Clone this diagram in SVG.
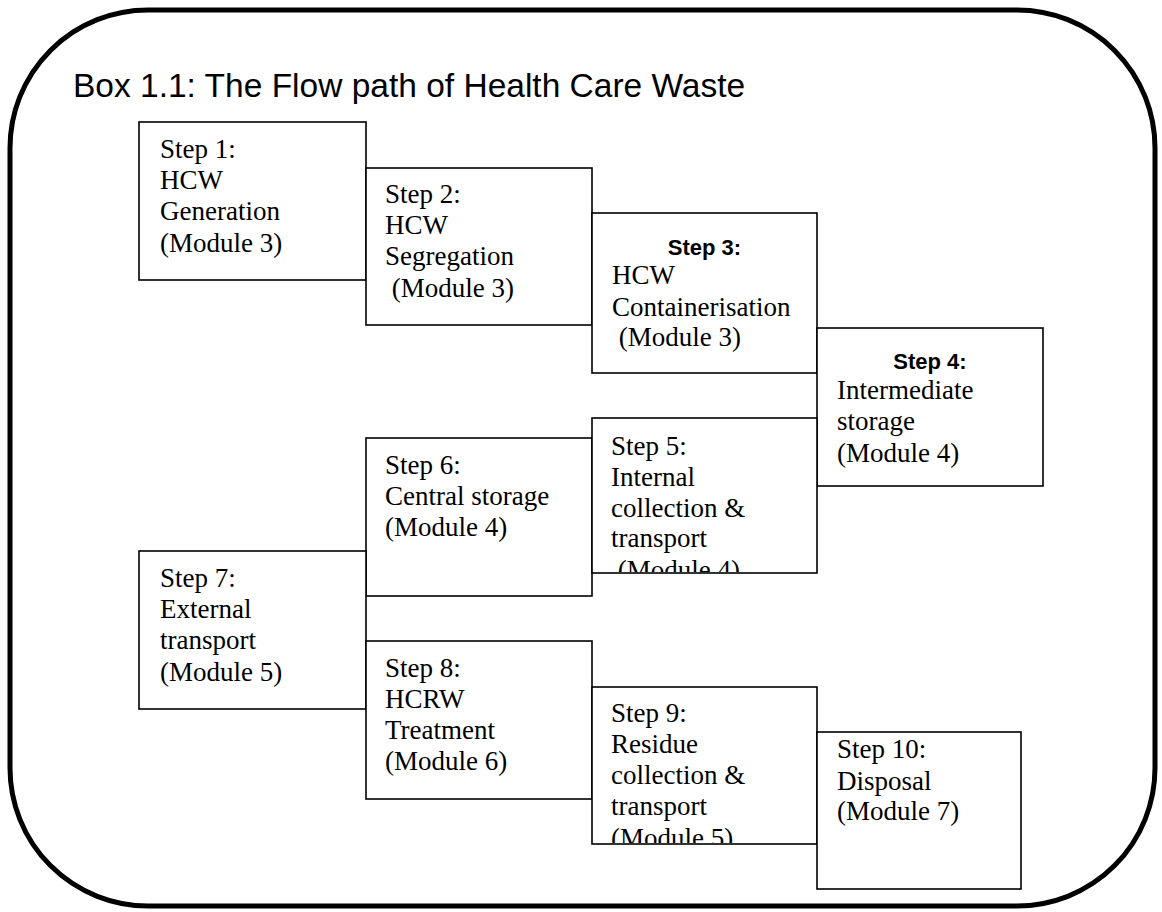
<svg xmlns="http://www.w3.org/2000/svg" width="1162" height="912" viewBox="0 0 1162 912">
<style>
.box{fill:#fff;stroke:#000;stroke-width:1.6}
.t{font-family:"Liberation Serif","Times New Roman",serif;font-size:27px;fill:#000}
.b{font-family:"Liberation Sans",Arial,sans-serif;font-size:22px;font-weight:bold;fill:#000;text-anchor:middle}
.title{font-family:"Liberation Sans",Arial,sans-serif;font-size:33.5px;fill:#000}
</style>
<defs>
<clipPath id="c5"><rect x="592" y="418" width="225" height="154"/></clipPath>
<clipPath id="c9"><rect x="592" y="687" width="225" height="156"/></clipPath>
</defs>
<rect x="10" y="10" width="1145" height="896" rx="138" ry="138" fill="#fff" stroke="#000" stroke-width="5"/>
<text class="title" x="73" y="97">Box 1.1: The Flow path of Health Care Waste</text>
<g id="connectors"></g>
<g id="step1">
<rect class="box" x="139" y="122" width="227" height="158"/>
<text class="t" x="160" y="158">Step 1:</text>
<text class="t" x="160" y="189">HCW</text>
<text class="t" x="160" y="220">Generation</text>
<text class="t" x="160" y="252">(Module 3)</text>
</g>
<g id="step2">
<rect class="box" x="366" y="168" width="226" height="157"/>
<text class="t" x="385" y="203">Step 2:</text>
<text class="t" x="385" y="234">HCW</text>
<text class="t" x="385" y="265">Segregation</text>
<text class="t" x="385" y="297" xml:space="preserve"> (Module 3)</text>
</g>
<g id="step3">
<rect class="box" x="592" y="213" width="225" height="160"/>
<text class="b" x="704.5" y="255">Step 3:</text>
<text class="t" x="612" y="284">HCW</text>
<text class="t" x="612" y="316">Containerisation</text>
<text class="t" x="612" y="346" xml:space="preserve"> (Module 3)</text>
</g>
<g id="step4">
<rect class="box" x="817" y="328" width="226" height="158"/>
<text class="b" x="930" y="369">Step 4:</text>
<text class="t" x="837" y="399">Intermediate</text>
<text class="t" x="837" y="430">storage</text>
<text class="t" x="837" y="462">(Module 4)</text>
</g>
<g id="step6">
<rect class="box" x="366" y="438" width="226" height="158"/>
<text class="t" x="385" y="474">Step 6:</text>
<text class="t" x="385" y="505">Central storage</text>
<text class="t" x="385" y="536">(Module 4)</text>
</g>
<g id="step5">
<rect class="box" x="592" y="418" width="225" height="155"/>
<g clip-path="url(#c5)">
<text class="t" x="611" y="455">Step 5:</text>
<text class="t" x="611" y="486">Internal</text>
<text class="t" x="611" y="517">collection &amp;</text>
<text class="t" x="611" y="547">transport</text>
<text class="t" x="611" y="579" xml:space="preserve"> (Module 4)</text>
</g>
</g>
<g id="step7">
<rect class="box" x="139" y="551" width="227" height="158"/>
<text class="t" x="160" y="587">Step 7:</text>
<text class="t" x="160" y="618">External</text>
<text class="t" x="160" y="649">transport</text>
<text class="t" x="160" y="681">(Module 5)</text>
</g>
<g id="step8">
<rect class="box" x="366" y="641" width="226" height="158"/>
<text class="t" x="385" y="677">Step 8:</text>
<text class="t" x="385" y="708">HCRW</text>
<text class="t" x="385" y="739">Treatment</text>
<text class="t" x="385" y="770">(Module 6)</text>
</g>
<g id="step9">
<rect class="box" x="592" y="687" width="225" height="157"/>
<g clip-path="url(#c9)">
<text class="t" x="611" y="722">Step 9:</text>
<text class="t" x="611" y="753">Residue</text>
<text class="t" x="611" y="784">collection &amp;</text>
<text class="t" x="611" y="815">transport</text>
<text class="t" x="611" y="847">(Module 5)</text>
</g>
</g>
<g id="step10">
<rect class="box" x="817" y="732" width="204" height="157"/>
<text class="t" x="837" y="758">Step 10:</text>
<text class="t" x="837" y="790">Disposal</text>
<text class="t" x="837" y="820">(Module 7)</text>
</g>
</svg>
